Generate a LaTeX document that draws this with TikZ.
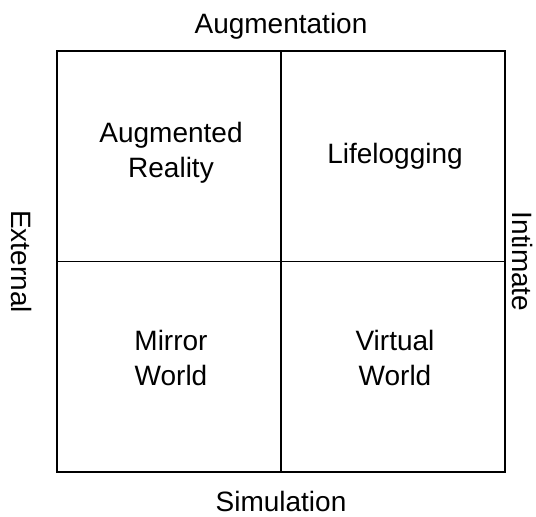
\documentclass[tikz,border=0pt]{standalone}
\usepackage{fontspec}
\setmainfont{Liberation Sans}
\def\outerBox{(57pt, 45pt) rectangle (505pt, 466pt)}
\colorlet{grid edge}{black}
\tikzset{
  gridline/.style={draw=grid edge, line width=1.2pt},
  quadrant/.style={align=center, inner sep=0pt, font=\fontsize{28}{35}\selectfont}
  }
\tikzstyle{axis}=[inner sep=0pt, font=\fontsize{28}{35}\selectfont]

\begin{document}
\begin{tikzpicture}[x=1pt, y=1pt]

  \useasboundingbox (0, 0) rectangle (536, 517);

  \draw[gridline] \outerBox;
  \coordinate (top) at (281, 466);
  \coordinate (bottom) at (281, 45);
  \coordinate (left) at (57, 255.5);
  \coordinate (right) at (505, 255.5);
  \draw[gridline] (top) -- (bottom);
  \draw[gridline] (left) -- (right);

  \foreach \pos/\name/\txt in {{(171, 364)/ar/Augmented\\Reality}, {(395, 361)/ll/Lifelogging},
      {(171, 159.5)/mw/Mirror\\World}, {(395, 159.5)/vw/Virtual\\World}} {
    \node[quadrant] (\name) at \pos {\txt};
  }

  \node[axis] (aug) at (281, 491) {Augmentation};
  \node[axis] (sim) at (281, 16) {Simulation};
  \node[axis, rotate=-90] (ext) at (22, 255.5) {External};
  \node[axis, rotate=-90] (int) at (523, 255.5) {Intimate};

\end{tikzpicture}
\end{document}
